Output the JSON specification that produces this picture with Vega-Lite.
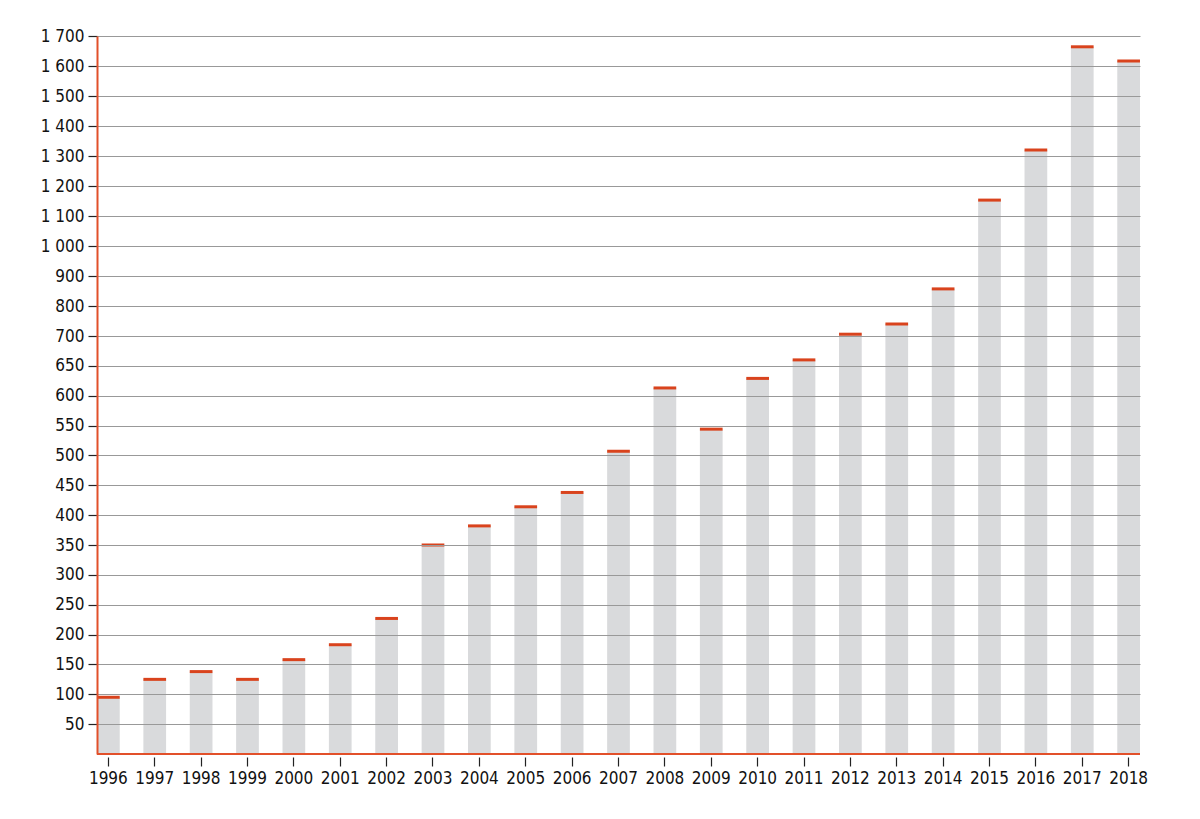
{
  "$schema": "https://vega.github.io/schema/vega-lite/v6.json",
  "width": 1043,
  "height": 718,
  "autosize": {"type": "none"},
  "padding": {"left": 97, "top": 36, "right": 60, "bottom": 65},
  "background": "white",
  "config": {
    "view": {"stroke": null},
    "font": "'DejaVu Sans Condensed', Roboto, sans-serif"
  },
  "data": {
    "values": [
      {"year": "1996", "value": 95},
      {"year": "1997", "value": 125},
      {"year": "1998", "value": 138},
      {"year": "1999", "value": 125},
      {"year": "2000", "value": 158},
      {"year": "2001", "value": 183},
      {"year": "2002", "value": 227},
      {"year": "2003", "value": 350},
      {"year": "2004", "value": 382},
      {"year": "2005", "value": 414},
      {"year": "2006", "value": 438},
      {"year": "2007", "value": 507},
      {"year": "2008", "value": 613},
      {"year": "2009", "value": 544},
      {"year": "2010", "value": 629},
      {"year": "2011", "value": 660},
      {"year": "2012", "value": 706},
      {"year": "2013", "value": 740},
      {"year": "2014", "value": 857},
      {"year": "2015", "value": 1153},
      {"year": "2016", "value": 1320},
      {"year": "2017", "value": 1664},
      {"year": "2018", "value": 1617}
    ]
  },
  "encoding": {
    "x": {
      "field": "year",
      "type": "ordinal",
      "scale": {"paddingInner": 0.51, "paddingOuter": 0},
      "axis": {
        "title": null,
        "labelAngle": 0,
        "domain": false,
        "offset": 3,
        "tickSize": 9,
        "tickColor": "#222222",
        "tickWidth": 1.2,
        "labelFontSize": 17,
        "labelColor": "#111111",
        "labelPadding": 4,
        "labelFont": "'DejaVu Sans Condensed', Roboto, sans-serif"
      }
    },
    "y": {
      "field": "value",
      "type": "quantitative",
      "scale": {"domain": [0, 700, 1700], "range": [718, 300, 0], "nice": false},
      "axis": {
        "title": null,
        "values": [50, 100, 150, 200, 250, 300, 350, 400, 450, 500, 550, 600, 650, 700, 800, 900, 1000, 1100, 1200, 1300, 1400, 1500, 1600, 1700],
        "labelExpr": "replace(format(datum.value, ','), ',', ' ')",
        "grid": true,
        "gridColor": "#999999",
        "gridWidth": 1,
        "zindex": 1,
        "domainColor": "#e2502a",
        "domainWidth": 2,
        "tickColor": "#222222",
        "tickSize": 9,
        "tickWidth": 1.2,
        "labelFontSize": 17,
        "labelColor": "#111111",
        "labelPadding": 4,
        "labelFont": "'DejaVu Sans Condensed', Roboto, sans-serif"
      }
    }
  },
  "layer": [
    {
      "mark": {"type": "bar", "color": "#d9dadc"}
    },
    {
      "mark": {"type": "tick", "color": "#d9431d", "opacity": 1, "thickness": 3, "size": 22.7, "orient": "horizontal"}
    },
    {
      "mark": {"type": "rule", "color": "#e2502a", "strokeWidth": 2},
      "encoding": {"y": {"datum": 0}, "x": null}
    }
  ]
}
